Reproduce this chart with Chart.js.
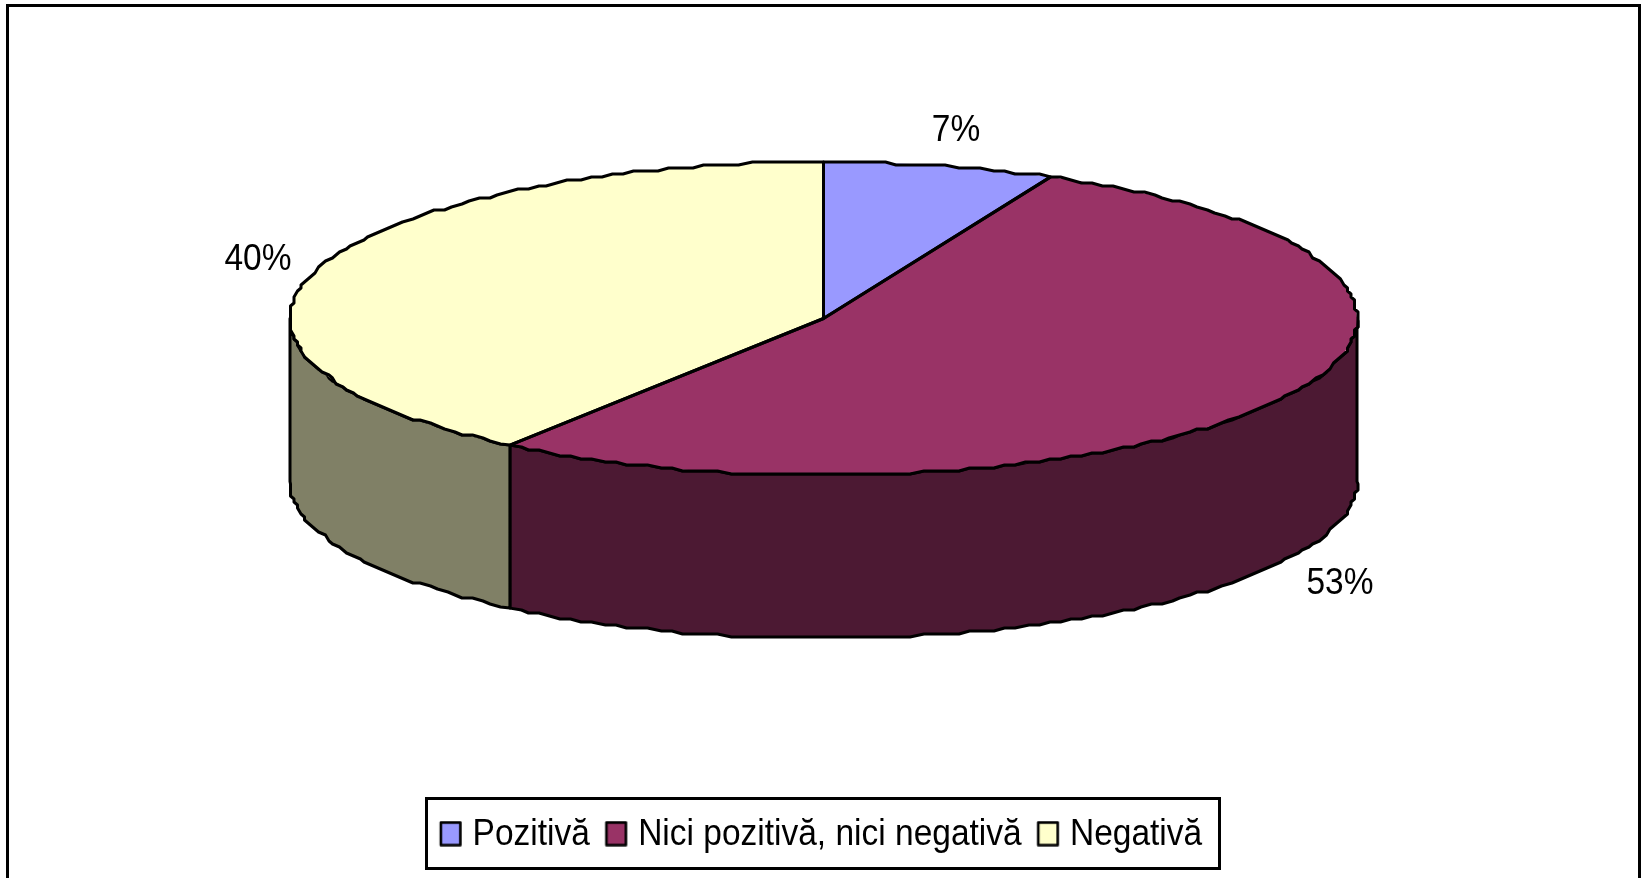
<!DOCTYPE html>
<html><head><meta charset="utf-8">
<style>html,body{margin:0;padding:0;background:#fff;overflow:hidden}canvas{display:block}</style>
<script src="https://cdn.jsdelivr.net/npm/chart.js@4/dist/chart.umd.min.js"></script>
</head><body><canvas id="c" width="1646" height="878"></canvas>
<script>
const categories = ['Pozitivă', 'Nici pozitivă, nici negativă', 'Negativă'];
const values = [7, 53, 40];
const topColors = ['#9999FF', '#993366', '#FFFFCC'];
const sideColors = ['#4C4C80', '#4C1933', '#808066'];
const labelAnchors = [[956, 131], [1340, 584], [258, 260]];

const FONT = '"Liberation Sans", Arial, sans-serif';
const CX = 823.5, CY = 318.5, RX = 533.5, RY = 156.5, DEPTH = 163;
const LINE = 3;
const TEXT_STRETCH = 1.08;
const LEGEND_MID = 833;

function marker(color) {
  const m = document.createElement('canvas');
  m.width = 30; m.height = 26;
  const g = m.getContext('2d');
  g.fillStyle = color; g.strokeStyle = '#000'; g.lineWidth = 2.6; g.lineJoin = 'round';
  g.fillRect(8, 1.5, 19.5, 21); g.strokeRect(8, 1.5, 19.5, 21);
  return m;
}
const markers = topColors.map(marker);

function jag(v, g) { return Math.round(v / g) * g; }
function rim(a0, a1, dy) {
  const pts = [], step = 1.3 * Math.PI / 180;
  const n = Math.max(1, Math.round((a1 - a0) / step));
  for (let i = 0; i <= n; i++) {
    const a = a0 + (a1 - a0) * i / n;
    let x = CX + RX * Math.cos(a), y = CY + RY * Math.sin(a);
    if (i > 0 && i < n) { x = jag(x, 3.5); y = jag(y, 3); }
    pts.push([x, y + dy]);
  }
  return pts;
}
function tracePts(ctx, pts, first) {
  pts.forEach((p, i) => (i === 0 && first) ? ctx.moveTo(p[0], p[1]) : ctx.lineTo(p[0], p[1]));
}
const pie3d = {
  id: 'pie3d',
  afterLayout(chart) {
    const legend = chart.legend;
    if (legend && !legend._stretched) {
      legend._stretched = true;
      const draw = legend.draw.bind(legend);
      legend.draw = () => {
        const ctx = chart.ctx;
        ctx.save();
        ctx.translate(0, LEGEND_MID);
        ctx.scale(1, TEXT_STRETCH);
        ctx.translate(0, -LEGEND_MID);
        draw();
        ctx.restore();
      };
    }
  },
  beforeDatasetsDraw(chart) {
    const ctx = chart.ctx;
    ctx.save();
    ctx.lineWidth = 3; ctx.strokeStyle = '#000';
    ctx.strokeRect(7.5, 5.5, 1632, 920);
    ctx.restore();
    const arcs = chart.getDatasetMeta(0).data;
    ctx.save();
    ctx.lineWidth = LINE; ctx.strokeStyle = '#000'; ctx.lineJoin = 'round';
    arcs.forEach((arc, i) => {
      const a0 = Math.max(arc.startAngle, 0), a1 = Math.min(arc.endAngle, Math.PI);
      if (a1 <= a0) return;
      const upper = rim(a0, a1, 0), lower = rim(a0, a1, DEPTH).reverse();
      ctx.beginPath();
      tracePts(ctx, upper, true); tracePts(ctx, lower, false);
      ctx.closePath();
      ctx.fillStyle = sideColors[i];
      ctx.fill(); ctx.stroke();
    });
    ctx.restore();
  },
  beforeDatasetDraw(chart) {
    const ctx = chart.ctx, arc = chart.getDatasetMeta(0).data[0];
    ctx.save();
    ctx.translate(CX, CY);
    ctx.scale(RX / arc.outerRadius, RY / arc.outerRadius);
    ctx.translate(-arc.x, -arc.y);
  },
  afterDatasetDraw(chart) { chart.ctx.restore(); },
  afterDatasetsDraw(chart) {
    const ctx = chart.ctx, arcs = chart.getDatasetMeta(0).data;
    ctx.save();
    ctx.lineWidth = LINE; ctx.strokeStyle = '#000'; ctx.lineJoin = 'round';
    arcs.forEach(arc => {
      ctx.beginPath();
      ctx.moveTo(CX, CY);
      tracePts(ctx, rim(arc.startAngle, arc.endAngle, 0), false);
      ctx.closePath();
      ctx.stroke();
    });
    ctx.fillStyle = '#000';
    ctx.font = '33.5px ' + FONT;
    ctx.textAlign = 'center'; ctx.textBaseline = 'middle';
    values.forEach((v, i) => {
      ctx.save();
      ctx.translate(labelAnchors[i][0], labelAnchors[i][1]);
      ctx.scale(1, TEXT_STRETCH);
      ctx.fillText(v + '%', 0, 0);
      ctx.restore();
    });
    ctx.restore();
  },
  afterDraw(chart) {
    const ctx = chart.ctx;
    ctx.save();
    ctx.lineWidth = 3; ctx.strokeStyle = '#000';
    ctx.strokeRect(426.5, 798.5, 793, 70);
    ctx.restore();
  }
};

new Chart(document.getElementById('c'), {
  type: 'pie',
  plugins: [pie3d],
  data: {
    labels: categories,
    datasets: [{ data: values, backgroundColor: topColors, borderWidth: 0, clip: false }]
  },
  options: {
    responsive: false,
    animation: false,
    radius: RX,
    layout: { padding: { left: 0, right: 4, top: 0, bottom: 16.5 } },
    plugins: {
      tooltip: { enabled: false },
      legend: {
        position: 'bottom',
        labels: {
          color: '#000',
          font: { family: FONT, size: 33.5 },
          padding: 15.5,
          usePointStyle: true,
          pointStyleWidth: 16,
          generateLabels: () => categories.map((t, i) => ({
            text: t, index: i, hidden: false, fontColor: '#000',
            fillStyle: topColors[i], pointStyle: markers[i], lineWidth: 0
          }))
        }
      }
    }
  }
});
</script></body></html>
